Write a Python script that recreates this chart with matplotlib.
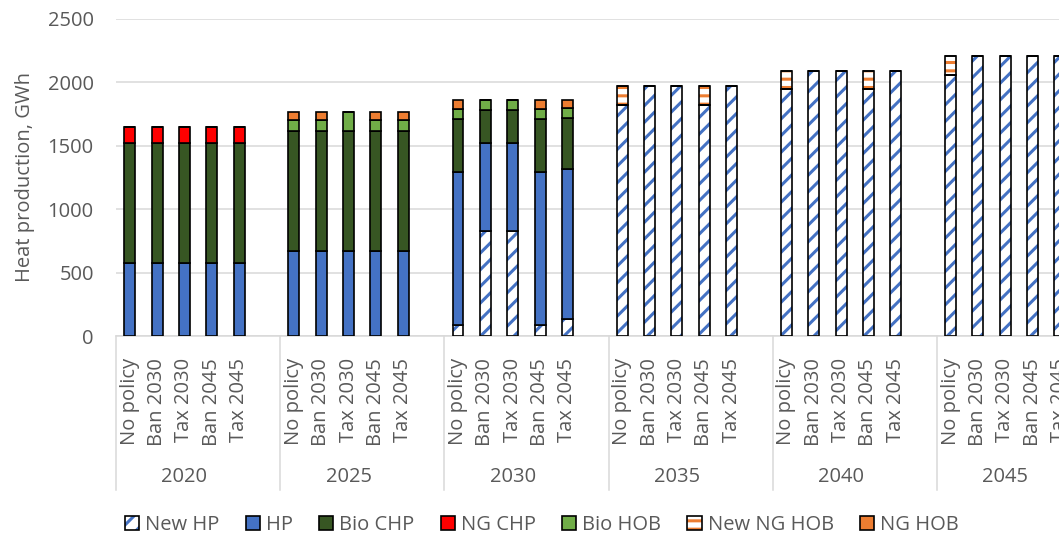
import numpy as np
import matplotlib.pyplot as plt
from matplotlib.patches import Patch

plt.rcParams['font.family'] = ['Open Sans', 'DejaVu Sans']
plt.rcParams['hatch.linewidth'] = 2.2

# Scenario results, GWh (one list of 5 policy values per year)
years = ['2020', '2025', '2030', '2035', '2040', '2045']
policies = ['No policy', 'Ban 2030', 'Tax 2030', 'Ban 2045', 'Tax 2045']

new_hp = [[0, 0, 0, 0, 0],
          [0, 0, 0, 0, 0],
          [90, 830, 830, 90, 135],
          [1825, 1970, 1970, 1825, 1970],
          [1945, 2090, 2090, 1945, 2090],
          [2060, 2210, 2210, 2210, 2210]]
hp = [[575, 575, 575, 575, 575],
      [670, 670, 670, 670, 670],
      [1200, 695, 695, 1200, 1185],
      [0, 0, 0, 0, 0],
      [0, 0, 0, 0, 0],
      [0, 0, 0, 0, 0]]
bio_chp = [[945, 945, 945, 945, 945],
           [950, 950, 950, 950, 950],
           [420, 260, 260, 420, 400],
           [0, 0, 0, 0, 0],
           [0, 0, 0, 0, 0],
           [0, 0, 0, 0, 0]]
ng_chp = [[125, 125, 125, 125, 125],
          [0, 0, 0, 0, 0],
          [0, 0, 0, 0, 0],
          [0, 0, 0, 0, 0],
          [0, 0, 0, 0, 0],
          [0, 0, 0, 0, 0]]
bio_hob = [[0, 0, 0, 0, 0],
           [80, 80, 150, 80, 80],
           [80, 80, 80, 80, 80],
           [0, 0, 0, 0, 0],
           [0, 0, 0, 0, 0],
           [0, 0, 0, 0, 0]]
new_ng_hob = [[0, 0, 0, 0, 0],
              [0, 0, 0, 0, 0],
              [0, 0, 0, 0, 0],
              [145, 0, 0, 145, 0],
              [145, 0, 0, 145, 0],
              [150, 0, 0, 0, 0]]
ng_hob = [[0, 0, 0, 0, 0],
          [70, 70, 0, 70, 70],
          [75, 0, 0, 75, 65],
          [0, 0, 0, 0, 0],
          [0, 0, 0, 0, 0],
          [0, 0, 0, 0, 0]]

series = [
    ('New HP', new_hp, dict(color='white', hatch='//', hatch_col='#4472C4')),
    ('HP', hp, dict(color='#4472C4')),
    ('Bio CHP', bio_chp, dict(color='#375623')),
    ('NG CHP', ng_chp, dict(color='#FF0000')),
    ('Bio HOB', bio_hob, dict(color='#70AD47')),
    ('New NG HOB', new_ng_hob, dict(color='white', hatch='--', hatch_col='#ED7D31')),
    ('NG HOB', ng_hob, dict(color='#ED7D31')),
]

text_col = '#595959'
grid_col = '#D9D9D9'
slots = len(policies) + 1  # one empty slot after each year group
width = 0.4

fig = plt.figure(figsize=(10.59, 5.39), dpi=100)
ax = fig.add_axes([116 / 1059, 1 - 336 / 539, 985 / 1059, 317 / 539])

x = np.array([g * slots + i for g in range(len(years)) for i in range(len(policies))], dtype=float)
bottom = np.zeros(len(x))
handles = []
for name, vals, st in series:
    v = np.array(vals, dtype=float).ravel()
    if 'hatch' in st:
        ax.bar(x, v, width, bottom=bottom, color='white', edgecolor=st['hatch_col'],
               hatch=st['hatch'], linewidth=0, zorder=2)
        ax.bar(x, v, width, bottom=bottom, fill=False, edgecolor='black', linewidth=1.2, zorder=3)
        h = (Patch(facecolor='white', edgecolor=st['hatch_col'], hatch=st['hatch'], linewidth=0),
             Patch(fill=False, edgecolor='black', linewidth=1.2))
    else:
        ax.bar(x, v, width, bottom=bottom, color=st['color'], edgecolor='black',
               linewidth=1.2, zorder=3)
        h = Patch(facecolor=st['color'], edgecolor='black', linewidth=1.2)
    handles.append(h)
    bottom += v

ax.set_xlim(-0.5, len(years) * slots - 0.5)
ax.set_ylim(0, 2500)
ax.set_yticks(np.arange(0, 2501, 500))
ax.yaxis.grid(True, color=grid_col, linewidth=1.1)
ax.set_axisbelow(True)
for s in ['top', 'right', 'left']:
    ax.spines[s].set_visible(False)
ax.spines['bottom'].set_color(grid_col)
ax.spines['bottom'].set_linewidth(1.1)
ax.tick_params(axis='y', length=0, pad=16, labelsize=14.5, labelcolor=text_col)

ax.set_xticks(x)
ax.set_xticklabels(policies * len(years), rotation=90, fontsize=14.5, color=text_col)
ax.tick_params(axis='x', length=0, pad=16)

ax.set_ylabel('Heat production, GWh', fontsize=14.5, color=text_col, labelpad=9)

# Year group labels and separators under the axis
tr = ax.get_xaxis_transform()
for g, yr in enumerate(years):
    ax.text(g * slots + 2, -0.445, yr, transform=tr, ha='center', va='center',
            fontsize=14.5, color=text_col)
for g in range(len(years) + 1):
    ax.plot([g * slots - 0.5] * 2, [0, -0.486], transform=tr, color=grid_col,
            linewidth=1.1, clip_on=False)

fig.legend(handles, [s[0] for s in series], loc='center', bbox_to_anchor=(542 / 1059, 1 - 525 / 539),
           ncol=len(series), frameon=False, fontsize=14.5, labelcolor=text_col,
           handlelength=0.7, handleheight=0.7, handletextpad=0.3, columnspacing=1.3)

fig.savefig('out.png', dpi=100)
